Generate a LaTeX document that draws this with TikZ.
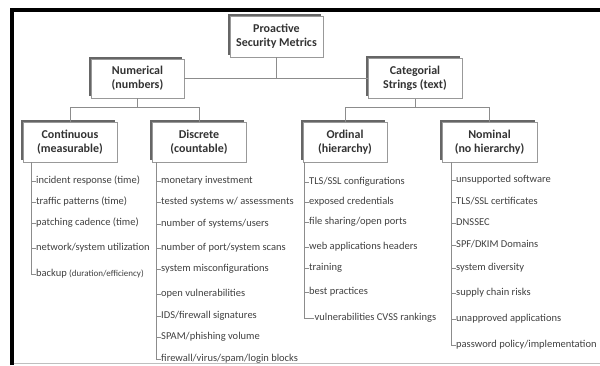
\documentclass[tikz,border=0pt]{standalone}
\usepackage{fontspec}
\setmainfont{Carlito}
\usetikzlibrary{positioning,shadows}

\begin{document}
\begin{tikzpicture}[x=1pt,y=-1pt,node distance=42pt,on grid,
  box/.style={draw=black!40,fill=white,line width=0.8pt,align=center,minimum height=40pt,inner sep=1pt,
    font=\bfseries\fontsize{12}{14}\selectfont,text=black!80,
    general shadow={fill=black!60,shadow xshift=-2.5pt,shadow yshift=2.5pt}},
  item/.style={anchor=west,inner xsep=0.5pt,inner ysep=0pt,text height=7pt,text depth=2pt,
    font=\fontsize{10.5}{12}\selectfont,text=black!75},
  link/.style={draw=black!45,line width=0.7pt}] %
  \useasboundingbox (0,0) rectangle (600,365);
  \draw[line width=3.5pt] (11.75,365) -- (11.75,9.75) -- (600,9.75);
  \draw[black!25,line width=0.8pt] (13.5,363.5) -- (600,363.5);
  % boxes
  \node[box,minimum width=93pt,minimum height=41pt] (psm) at (276.5,36.5) {Proactive\\Security Metrics} ; %
  \node[box,minimum width=93pt,minimum height=39pt,below=of psm,xshift=-139pt] (num) {Numerical\\(numbers)} ; %
  \node[box,minimum width=94pt,below=of psm,xshift=138.5pt] (cat) {Categorial\\Strings (text)} ; %
  \node[box,minimum width=94pt,below=63.5pt of num,xshift=-67.5pt] (cont) {Continuous\\(measurable)};
  \node[box,minimum width=94pt,below=63.5pt of num,xshift=61.5pt] (disc) {Discrete\\(countable)};
  \node[box,minimum width=84pt,below=63.5pt of cat,xshift=-70pt] (ord) {Ordinal\\(hierarchy)};
  \node[box,minimum width=95pt,below=63.5pt of cat,xshift=74.5pt] (nom) {Nominal\\(no hierarchy)};
  % tree lines
  \draw[link] (psm) -- (psm |- num.east);
  \draw[link] (num) -- (cat);
  \draw[link] (num.south) -- ++(0,8.5) coordinate (num-bar) -| (cont.north);
  \draw[link] (num-bar) -| (disc.north);
  \draw[link] (cat.south) -- ++(0,8.5) coordinate (cat-bar) -| (ord.north);
  \draw[link] (cat-bar) -| (nom.north);
  % leaf lists
  \coordinate (cont-root) at ([xshift=9pt]cont.south west);
  \foreach \y/\t [count=\i] in {181/{incident response (time)},202/{traffic patterns (time)},
      223/{patching cadence (time)},248/{network/system utilization},
      274/{backup {\fontsize{9}{10}\selectfont(duration/efficiency)}}} {
    \node[item] (cont-\i) at (35.5,\y) {\t};
    \draw[link] (cont-root) |- (cont-\i.west);
  }
  \coordinate (disc-root) at ([xshift=5pt]disc.south west);
  \foreach \y/\t [count=\i] in {181/{monetary investment},202/{tested systems w/ assessments},
      224/{number of systems/users},248/{number of port/system scans},269/{system misconfigurations},
      294/{open vulnerabilities},316/{IDS/firewall signatures},337/{SPAM/phishing volume},
      359/{firewall/virus/spam/login blocks}} {
    \node[item] (disc-\i) at (160.5,\y) {\t};
    \draw[link] (disc-root) |- (disc-\i.west);
  }
  \coordinate (ord-root) at ([xshift=2pt]ord.south west);
  \foreach \y/\x/\t [count=\i] in {182/308.5/{TLS/SSL configurations},202/308.5/{exposed credentials},
      222/308.5/{file sharing/open ports},247/308.5/{web applications headers},268/308.5/{training},
      292/308.5/{best practices},318/314/{vulnerabilities CVSS rankings}} {
    \node[item] (ord-\i) at (\x,\y) {\t};
    \draw[link] (ord-root) |- (ord-\i.west);
  }
  \coordinate (nom-root) at ([xshift=10pt]nom.south west);
  \foreach \y/\t [count=\i] in {180/{unsupported software},202/{TLS/SSL certificates},223/{DNSSEC},
      245/{SPF/DKIM Domains},268/{system diversity},293/{supply chain risks},
      319/{unapproved applications},345/{password policy/implementation}} {
    \node[item] (nom-\i) at (455.5,\y) {\t};
    \draw[link] (nom-root) |- (nom-\i.west);
  }
\end{tikzpicture}
\end{document}
